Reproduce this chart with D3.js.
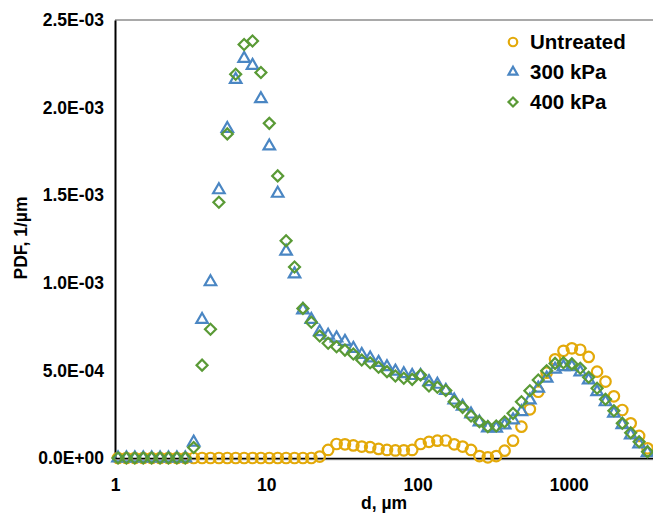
<!DOCTYPE html>
<html>
<head>
<meta charset="utf-8">
<script src="https://cdn.jsdelivr.net/npm/d3@7"></script>
<style>
  body { margin: 0; background: #fff; }
  text { font-family: "Liberation Sans", Arial, sans-serif; font-weight: bold; fill: #000; }
</style>
</head>
<body>
<svg width="653" height="513"></svg>
<script>
document.addEventListener('DOMContentLoaded', function() {

// particle size bins, µm
const diameters = [
    1.047, 1.190, 1.352, 1.537, 1.747, 1.985, 2.256, 2.564, 2.914, 3.311,
    3.763, 4.277, 4.861, 5.524, 6.278, 7.135, 8.109, 9.215, 10.47, 11.90,
    13.52, 15.37, 17.47, 19.85, 22.56, 25.64, 29.14, 33.11, 37.63, 42.77,
    48.61, 55.24, 62.78, 71.35, 81.09, 92.15, 104.7, 119.0, 135.2, 153.7,
    174.7, 198.5, 225.6, 256.4, 291.4, 331.1, 376.3, 427.7, 486.1, 552.4,
    627.8, 713.5, 810.9, 921.5, 1047, 1190, 1352, 1537, 1747, 1985,
    2256, 2564, 2914, 3311
];

// PDF values in units of 1e-3 1/µm
const untreated = [
    0, 0, 0, 0, 0, 0, 0, 0, 0, 0,
    0, 0, 0, 0, 0, 0, 0, 0, 0, 0,
    0, 0, 0, 0, 0.008, 0.046, 0.080, 0.078, 0.072, 0.065,
    0.062, 0.052, 0.046, 0.043, 0.044, 0.046, 0.080, 0.092, 0.099, 0.100,
    0.078, 0.065, 0.046, 0.011, 0.004, 0.011, 0.042, 0.099, 0.179, 0.278,
    0.378, 0.487, 0.563, 0.612, 0.626, 0.618, 0.577, 0.493, 0.436, 0.352,
    0.274, 0.198, 0.126, 0.055
];
const kpa300 = [
    0, 0, 0, 0, 0, 0, 0, 0, 0, 0.09,
    0.79, 1.005, 1.53, 1.88, 2.16, 2.28, 2.24, 2.05, 1.78, 1.51,
    1.18, 1.05, 0.845, 0.79, 0.72, 0.70, 0.685, 0.665, 0.625, 0.59,
    0.57, 0.545, 0.52, 0.495, 0.48, 0.47, 0.47, 0.435, 0.42, 0.385,
    0.33, 0.295, 0.25, 0.205, 0.171, 0.17, 0.188, 0.217, 0.264, 0.331,
    0.398, 0.455, 0.506, 0.52, 0.521, 0.49, 0.445, 0.378, 0.32, 0.255,
    0.19, 0.131, 0.08, 0.03
];
const kpa400 = [
    0, 0, 0, 0, 0, 0, 0, 0, 0, 0.06,
    0.53, 0.735, 1.46, 1.85, 2.19, 2.36, 2.38, 2.20, 1.91, 1.61,
    1.24, 1.09, 0.854, 0.775, 0.696, 0.655, 0.635, 0.616, 0.594, 0.559,
    0.544, 0.518, 0.493, 0.468, 0.455, 0.449, 0.474, 0.411, 0.404, 0.385,
    0.321, 0.289, 0.240, 0.207, 0.179, 0.183, 0.207, 0.255, 0.321, 0.384,
    0.445, 0.498, 0.540, 0.544, 0.537, 0.512, 0.461, 0.398, 0.335, 0.27,
    0.198, 0.144, 0.093, 0.036
];

const seriesNames = ["Untreated", "300 kPa", "400 kPa"];
const xTicks = [1, 10, 100, 1000];
const yTicks = [0, 0.5e-3, 1.0e-3, 1.5e-3, 2.0e-3, 2.5e-3];

const series = [
    { name: seriesNames[0], values: untreated, color: "#e3a909", shape: "circle", size: 10.5 },
    { name: seriesNames[1], values: kpa300, color: "#4a86c3", shape: "triangle", size: 11.5 },
    { name: seriesNames[2], values: kpa400, color: "#5a9a36", shape: "diamond", size: 11 }
];

const svg = d3.select("svg");
const left = 115, right = 653, top = 20, bottom = 458;

const x = d3.scaleLog().domain([1, 3600]).range([left, right]);
const y = d3.scaleLinear().domain([0, 2.5e-3]).range([bottom, top]);

function sci(v) {
    if (v === 0) return "0.0E+00";
    const parts = v.toExponential(1).split("e");
    const e = +parts[1];
    return parts[0] + "E" + (e < 0 ? "-" : "+") + String(Math.abs(e)).padStart(2, "0");
}

// plot frame
svg.append("line")
    .attr("x1", left).attr("x2", right)
    .attr("y1", top).attr("y2", top)
    .attr("stroke", "#8c8c8c").attr("stroke-width", 1.5);
svg.append("line")
    .attr("x1", left).attr("x2", right)
    .attr("y1", bottom + 1.5).attr("y2", bottom + 1.5)
    .attr("stroke", "#a6a6a6").attr("stroke-width", 1.5);

const yAxis = svg.append("g")
    .attr("transform", `translate(${left},0)`)
    .call(d3.axisLeft(y).tickValues(yTicks).tickFormat(sci).tickSize(0).tickPadding(11));
yAxis.select(".domain").attr("stroke", "#000").attr("stroke-width", 2);
yAxis.selectAll("text").attr("font-size", "17.5px").attr("font-family", null);

const xAxis = svg.append("g")
    .attr("transform", `translate(0,${bottom})`)
    .call(d3.axisBottom(x).tickValues(xTicks).tickFormat(d3.format("d")).tickSize(0).tickPadding(21));
xAxis.select(".domain").attr("stroke", "#000").attr("stroke-width", 1.5);
xAxis.selectAll("text").attr("font-size", "17.5px").attr("font-family", null);

svg.append("text")
    .attr("x", 384).attr("y", 509)
    .attr("text-anchor", "middle")
    .attr("font-size", "17.5px")
    .text("d, µm");

svg.append("text")
    .attr("transform", "translate(27,238) rotate(-90)")
    .attr("text-anchor", "middle")
    .attr("font-size", "17.5px")
    .text("PDF, 1/µm");

function markerPath(shape, s) {
    if (shape === "circle") return d3.symbol(d3.symbolCircle, Math.PI * s * s / 4)();
    if (shape === "triangle") return d3.symbol(d3.symbolTriangle, Math.sqrt(3) / 4 * s * s)();
    return d3.symbol(d3.symbolSquare, s * s / 2)();
}

const plot = svg.append("g");

series.forEach(s => {
    const pts = diameters.map((d, i) => ({ d: d, v: s.values[i] * 1e-3 }));
    plot.append("g")
        .selectAll("path")
        .data(pts)
        .enter()
        .append("path")
        .attr("d", markerPath(s.shape, s.size))
        .attr("transform", d => `translate(${x(d.d)},${y(d.v)})` + (s.shape === "diamond" ? " rotate(45)" : ""))
        .attr("fill", "none")
        .attr("stroke", s.color)
        .attr("stroke-width", 2.2);
});

// legend
const legend = svg.append("g");
series.forEach((s, i) => {
    const ly = 42 + i * 30;
    legend.append("path")
        .attr("d", markerPath(s.shape, s.shape === "circle" ? 8.5 : 9))
        .attr("transform", `translate(513,${ly})` + (s.shape === "diamond" ? " rotate(45)" : ""))
        .attr("fill", "none")
        .attr("stroke", s.color)
        .attr("stroke-width", 2.2);
    legend.append("text")
        .attr("x", 530).attr("y", ly)
        .attr("dy", "0.36em")
        .attr("font-size", "20.5px")
        .text(s.name);
});

});
</script>
</body>
</html>
